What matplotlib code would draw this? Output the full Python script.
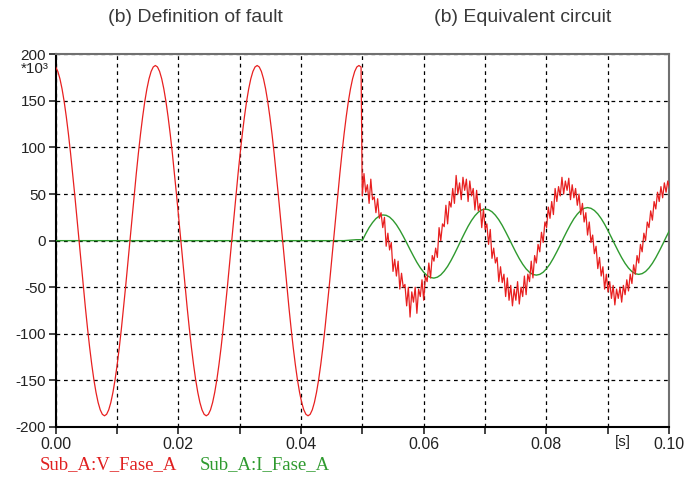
import numpy as np
import matplotlib
matplotlib.use('Agg')
import matplotlib.pyplot as plt

# Phase A voltage before the fault [kV], one sample every 1/48 of a cycle.
v_pre = [
    186.4, 181.6, 173.7, 162.8, 149.2, 132.9, 114.5, 94.0, 71.9, 48.7, 24.5, 0.0,
    -24.5, -48.7, -71.9, -94.0, -114.5, -132.9, -149.2, -162.8, -173.7, -181.6, -186.4, -188.0,
    -186.4, -181.6, -173.7, -162.8, -149.2, -132.9, -114.5, -94.0, -71.9, -48.7, -24.5, 0.0,
    24.5, 48.7, 71.9, 94.0, 114.5, 132.9, 149.2, 162.8, 173.7, 181.6, 186.4, 188.0,
    186.4, 181.6, 173.7, 162.8, 149.2, 132.9, 114.5, 94.0, 71.9, 48.7, 24.5, 0.0,
    -24.5, -48.7, -71.9, -94.0, -114.5, -132.9, -149.2, -162.8, -173.7, -181.6, -186.4, -188.0,
    -186.4, -181.6, -173.7, -162.8, -149.2, -132.9, -114.5, -94.0, -71.9, -48.7, -24.5, 0.0,
    24.5, 48.7, 71.9, 94.0, 114.5, 132.9, 149.2, 162.8, 173.7, 181.6, 186.4, 188.0,
    186.4, 181.6, 173.7, 162.8, 149.2, 132.9, 114.5, 94.0, 71.9, 48.7, 24.5, 0.0,
    -24.5, -48.7, -71.9, -94.0, -114.5, -132.9, -149.2, -162.8, -173.7, -181.6, -186.4, -188.0,
    -186.4, -181.6, -173.7, -162.8, -149.2, -132.9, -114.5, -94.0, -71.9, -48.7, -24.5, 0.0,
    24.5, 48.7, 71.9, 94.0, 114.5, 132.9, 149.2, 162.8, 173.7, 181.6, 186.4, 188.0,
    186.4]
dt_pre = 0.0166 / 48

# Phase A voltage after the fault (noisy), one sample every 1/60 of a cycle.
v_post = [
    48, 72, 52, 60, 40, 66, 44, 47, 30, 45, 24, 30, 14, 25, -6, 8, -10, -2, -33, -20,
    -38, -22, -52, -35, -50, -47, -70, -50, -82, -55, -66, -50, -78, -52, -60, -42, -64, -38, -44, -24,
    -40, -16, -22, -8, -18, 14, 0, 18, 15, 38, 18, 42, 36, 56, 40, 70, 50, 62, 44, 68,
    54, 66, 42, 64, 48, 56, 33, 54, 32, 40, 14, 34, 12, 18, -4, 12, -19, -8, -24, -18,
    -44, -28, -45, -36, -60, -40, -64, -48, -70, -52, -64, -44, -68, -50, -60, -38, -58, -36, -44, -22,
    -40, -16, -24, -4, -12, 9, -2, 20, 14, 36, 24, 42, 28, 56, 42, 58, 48, 68, 50, 64,
    54, 67, 44, 60, 46, 56, 38, 50, 28, 40, 20, 30, 6, 20, -2, 6, -14, -6, -30, -18,
    -38, -28, -52, -36, -55, -44, -62, -48, -69, -52, -62, -50, -66, -48, -58, -42, -54, -36, -46, -26,
    -36, -16, -24, -4, -12, 8, 0, 20, 14, 32, 22, 42, 34, 52, 42, 58, 46, 62, 52, 64,
    56]
dt_post = 0.0167 / 60

# Phase A current after the fault [kA], one sample every 1/30 of a cycle.
i_post = [
    0.0, 7.4, 14.0, 19.4, 23.7, 26.4, 27.6, 27.2, 25.3, 21.8, 17.1, 11.3, 4.7, -2.3, -9.6,
    -16.6, -23.3, -29.1, -33.9, -37.5, -39.6, -40.2, -39.2, -36.7, -32.7, -27.6, -21.3, -14.3, -6.8, 0.9,
    8.3, 15.4, 21.6, 26.7, 30.6, 33.0, 33.9, 33.2, 31.0, 27.3, 22.4, 16.4, 9.5, 2.3, -5.2,
    -12.5, -19.3, -25.3, -30.3, -34.0, -36.3, -37.0, -36.2, -33.9, -30.0, -25.0, -18.8, -11.9, -4.6, 3.1,
    10.4, 17.3, 23.5, 28.5, 32.3, 34.7, 35.5, 34.7, 32.4, 28.7, 23.7, 17.6, 10.7, 3.4, -4.1,
    -11.4, -18.3, -24.4, -29.4, -33.2, -35.5, -36.2, -35.4, -33.1, -29.3, -24.3, -18.2, -11.3, -4.0, 3.6,
    10.9]
dt_i = 0.0167 / 30

# Current before the fault is practically zero.
t_i_pre = [0.0, 0.0470, 0.0490, 0.0498]
i_pre = [0.0, 0.0, 1.0, 1.0]

t_fault = 0.05

x_ticks = [0.00, 0.01, 0.02, 0.03, 0.04, 0.05, 0.06, 0.07, 0.08, 0.09, 0.10]
x_labels = ['0.00', '', '0.02', '', '0.04', '', '0.06', '', '0.08', '', '0.10']
y_ticks = [-200, -150, -100, -50, 0, 50, 100, 150, 200]
y_labels = ['-200', '-150', '-100', '-50', '0', '50', '100', '150', '200']

def main():
    tick_font = 'Liberation Sans'
    fig = plt.figure(figsize=(6.86, 4.79), dpi=100)
    ax = fig.add_axes([0.0812, 0.1086, 0.8938, 0.778])
    # Voltage: pre-fault sinusoid joined to the noisy post-fault wave.
    t_v = np.concatenate([np.arange(len(v_pre)) * dt_pre,
                          t_fault + np.arange(len(v_post)) * dt_post])
    v = np.concatenate([v_pre, v_post])
    # Current.
    t_i = np.concatenate([t_i_pre, t_fault + np.arange(len(i_post)) * dt_i])
    i = np.concatenate([i_pre, i_post])
    ax.plot(t_i, i, color='#2f9a2f', lw=1.0, zorder=3)
    ax.plot(t_v, v, color='#e82020', lw=0.9, zorder=4)
    ax.set_xlim(0, 0.1)
    ax.set_ylim(-200, 200)
    ax.set_xticks(x_ticks)
    ax.set_xticklabels(x_labels)
    ax.set_yticks(y_ticks)
    ax.set_yticklabels(y_labels)
    for lab in ax.get_yticklabels():
        lab.set_family(tick_font)
        lab.set_fontsize(11)
        lab.set_color('#222222')
    for lab in ax.get_xticklabels():
        lab.set_family(tick_font)
        lab.set_fontsize(11.5)
        lab.set_color('#222222')
    ax.tick_params(direction='out', length=5, width=1.2, pad=2, colors='#222222')
    ax.grid(True, color='black', linestyle=(0, (3, 3)), linewidth=0.9)
    ax.set_axisbelow(True)
    for side in ['left', 'bottom']:
        ax.spines[side].set_color('black')
        ax.spines[side].set_linewidth(1.5)
    for side in ['top', 'right']:
        ax.spines[side].set_color('#707070')
        ax.spines[side].set_linewidth(1.5)
    # Titles above the plot.
    fig.text(195 / 686, 1 - 17 / 479, '(b) Definition of fault', ha='center', va='center',
             fontsize=14, color='#3a3a3a', family='Liberation Sans')
    fig.text(523 / 686, 1 - 17 / 479, '(b) Equivalent circuit', ha='center', va='center',
             fontsize=14, color='#3a3a3a', family='Liberation Sans')
    # Scale factor and unit labels.
    fig.text(35 / 686, 1 - 69 / 479, '*10³', ha='center', va='center',
             fontsize=11, color='#222222', family=tick_font)
    fig.text(623 / 686, 1 - 442 / 479, '[s]', ha='center', va='center',
             fontsize=11, color='#222222', family=tick_font)
    # Legend entries written under the axis.
    fig.text(40 / 686, 1 - 465 / 479, 'Sub_A:V_Fase_A', ha='left', va='center',
             fontsize=13.5, color='#e02020', family='Liberation Serif')
    fig.text(200 / 686, 1 - 465 / 479, 'Sub_A:I_Fase_A', ha='left', va='center',
             fontsize=13.5, color='#2f9a2f', family='Liberation Serif')
    fig.savefig('out.png', dpi=100)

if(__name__ == '__main__'):
    main()
